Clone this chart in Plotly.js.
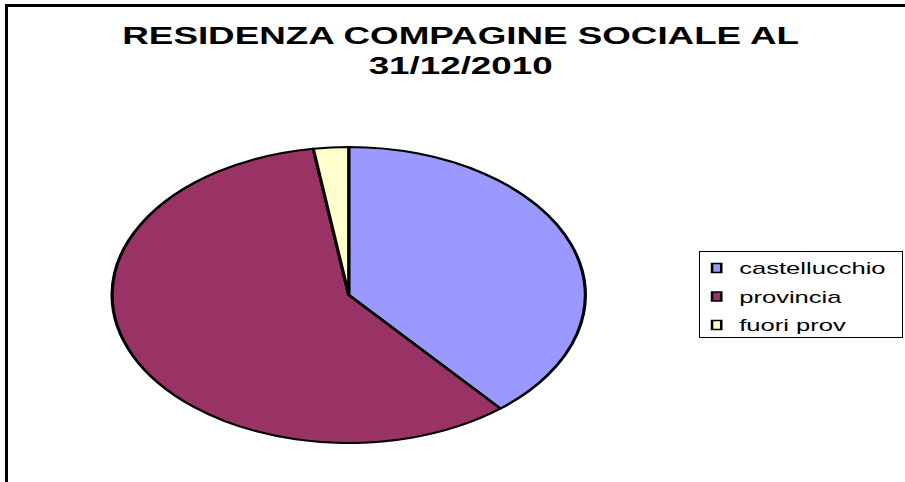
<!DOCTYPE html>
<html><head><meta charset="utf-8">
<script src="https://cdn.plot.ly/plotly-3.0.1.min.js"></script>
<style>
html,body{margin:0;padding:0;overflow:hidden;background:#fff;}
#wrap{position:relative;width:905px;height:482px;overflow:hidden;}
#chart{position:absolute;left:0;top:0;width:566px;height:482px;transform:scaleX(1.59894);transform-origin:0 0;}
#frame{position:absolute;left:5px;top:4px;width:1000px;height:1000px;border-left:3.6px solid #000;border-top:3.6px solid #000;pointer-events:none;}
</style></head><body><div id="wrap"><div id="chart"></div><div id="frame"></div></div>
<script>
const labels = ['castellucchio', 'provincia', 'fuori prov'];
const values = [65, 98, 4];
const colors = ['#9999FF', '#993366', '#FFFFCC'];
const titleText = 'RESIDENZA COMPAGINE SOCIALE AL<br>31/12/2010';

const W = 566, H = 482;
const trace = {
  type: 'pie', labels: labels, values: values, sort: false,
  direction: 'clockwise', rotation: 0, textinfo: 'none', hoverinfo: 'none',
  marker: {colors: colors, line: {color: '#000', width: 2}},
  domain: {x: [70.1 / W, 366.1 / W], y: [1 - 443 / H, 1 - 147 / H]}
};
const layout = {
  width: W, height: H, margin: {l: 0, r: 0, t: 0, b: 0, autoexpand: false},
  paper_bgcolor: 'rgba(0,0,0,0)',
  font: {family: 'Arial, "Liberation Sans", sans-serif', color: '#000'},
  title: {text: titleText, x: 288.1 / W, xanchor: 'center', xref: 'paper',
          y: 1 - 44 / H, yref: 'container', yanchor: 'top',
          font: {size: 23, weight: 'bold', family: 'Arial, "Liberation Sans", sans-serif', color: '#000'}},
  showlegend: true,
  legend: {x: 436.9 / W, xanchor: 'left', y: 1 - 251 / H, yanchor: 'top',
           bordercolor: '#000', borderwidth: 1, bgcolor: '#fff',
           font: {size: 16, family: 'Arial, "Liberation Sans", sans-serif', color: '#000'}}
};
Plotly.newPlot('chart', [trace], layout, {displayModeBar: false, staticPlot: true}).then(function (gd) {
  const leg = gd.querySelector('.legend');
  if (!leg) return;
  const items = leg.querySelectorAll('.traces');
  items.forEach(function (g, i) {
    g.setAttribute('transform', 'translate(1,' + (17 + i * 28.5) + ')');
    const p = g.querySelector('.legendpoints path');
    if (p) {
      p.setAttribute('transform', 'translate(10.3,0) scale(0.48,0.75)');
      p.style.vectorEffect = 'non-scaling-stroke';
      p.style.strokeWidth = '1.6px';
    }
    const t = g.querySelector('text.legendtext');
    if (t) {
      t.setAttribute('x', 24.4);
      t.querySelectorAll('tspan').forEach(function (s) { if (s.hasAttribute('x')) s.setAttribute('x', 24.4); });
    }
  });
  const bg = leg.querySelector('rect.bg');
  if (bg) { bg.setAttribute('width', 127); bg.setAttribute('height', 86); }
  const sb = leg.querySelector('.scrollbox');
  if (sb) sb.removeAttribute('clip-path');
});
</script>
</body></html>
